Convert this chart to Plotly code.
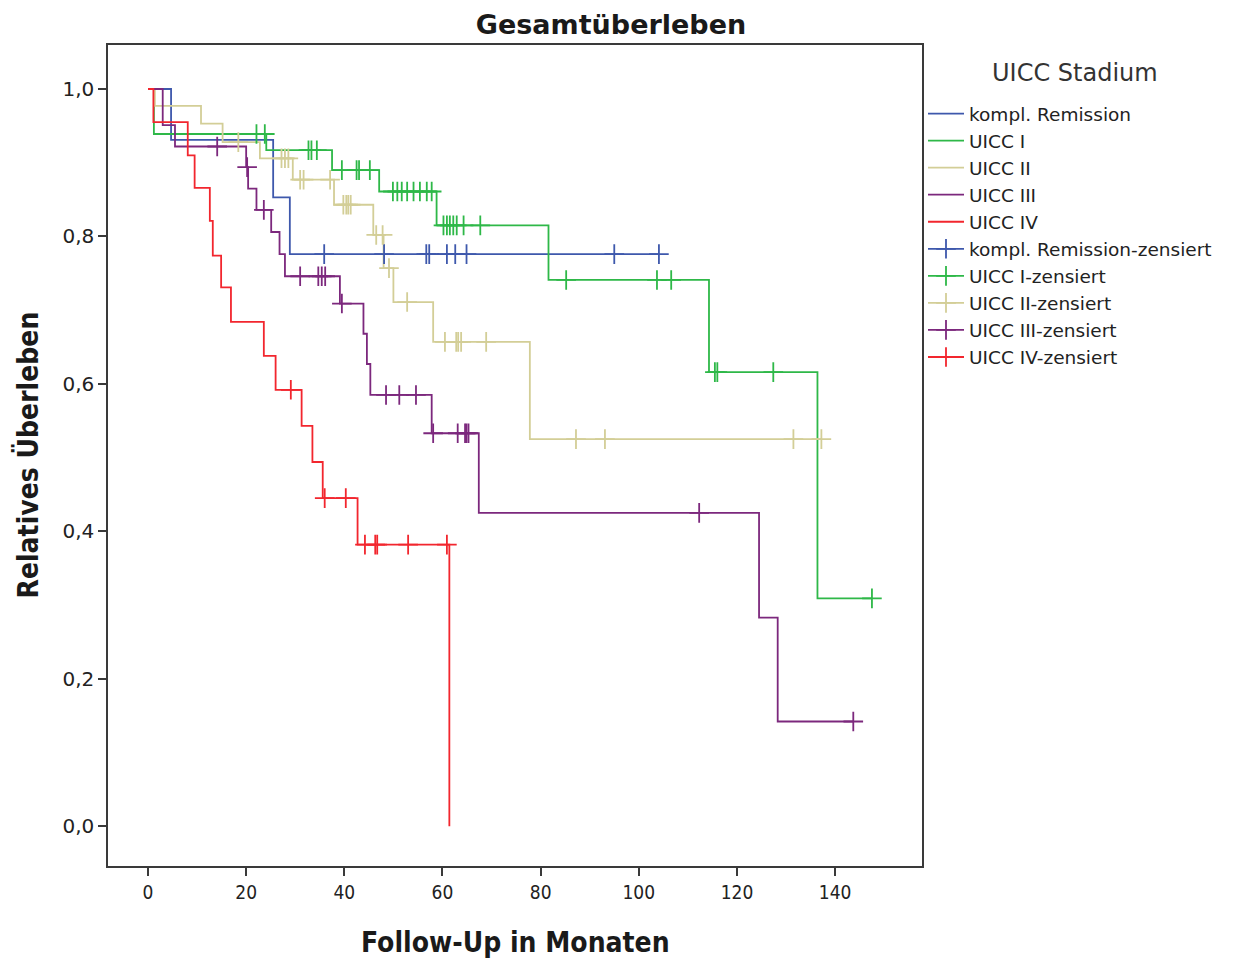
import plotly.graph_objects as go

# ---------------- data ----------------
groups = ["kompl. Remission", "UICC I", "UICC II", "UICC III", "UICC IV"]
colors = ["#3E58AC", "#2EB848", "#D3CE97", "#7C287D", "#F2262E"]

# event times (months) and survival level after each event
remission_t = [4.7, 25.5, 28.9]
remission_s = [0.931, 0.853, 0.776]
remission_cens = [35.9, 48.1, 56.7, 57.3, 60.9, 62.6, 64.9, 95.0, 104.1]

uicc1_t = [1.2, 24.1, 37.5, 47.1, 58.8, 81.6, 114.3, 136.4]
uicc1_s = [0.939, 0.917, 0.890, 0.861, 0.815, 0.741, 0.616, 0.309]
uicc1_cens = [22.1, 23.8, 32.7, 33.3, 34.4, 39.5, 42.5, 43.0, 45.2, 49.9, 50.8,
              51.7, 52.8, 54.1, 55.4, 56.8, 57.8, 60.2, 60.9, 61.5, 62.2, 62.9,
              64.3, 67.7, 85.2, 103.7, 106.6, 115.5, 116.0, 127.4, 147.5]

uicc2_t = [1.4, 10.8, 15.2, 22.8, 29.5, 37.9, 45.9, 48.0, 50.0, 58.1, 77.8]
uicc2_s = [0.977, 0.953, 0.928, 0.906, 0.877, 0.843, 0.802, 0.757, 0.711, 0.657, 0.525]
uicc2_cens = [18.4, 27.2, 27.9, 28.6, 31.0, 31.7, 37.1, 39.8, 40.4, 40.8, 41.3,
              46.5, 47.8, 49.1, 52.8, 60.5, 62.8, 63.2, 63.8, 68.9, 87.2, 93.1,
              131.5, 137.2]

uicc3_t = [3.0, 5.5, 20.0, 20.4, 22.1, 25.1, 26.8, 27.9, 39.1, 43.9, 44.6, 45.3,
           57.8, 67.4, 124.5, 128.3]
uicc3_s = [0.951, 0.922, 0.894, 0.865, 0.836, 0.806, 0.776, 0.746, 0.709, 0.668,
           0.627, 0.585, 0.533, 0.425, 0.283, 0.142]
uicc3_cens = [14.1, 20.2, 23.6, 31.0, 34.7, 35.4, 36.1, 39.5, 48.5, 51.2, 54.6,
              58.1, 63.1, 64.6, 64.9, 65.3, 112.3, 143.7]

uicc4_t = [1.1, 8.1, 9.5, 12.6, 13.2, 14.9, 16.9, 23.6, 26.0, 31.3, 33.5, 35.6,
           42.7, 61.4]
uicc4_s = [0.955, 0.910, 0.866, 0.821, 0.774, 0.731, 0.684, 0.638, 0.592, 0.543,
           0.494, 0.445, 0.382, 0.0]
uicc4_cens = [29.1, 36.0, 40.3, 44.2, 46.3, 46.7, 53.0, 60.9]

event_times = [remission_t, uicc1_t, uicc2_t, uicc3_t, uicc4_t]
surv_levels = [remission_s, uicc1_s, uicc2_s, uicc3_s, uicc4_s]
censor_times = [remission_cens, uicc1_cens, uicc2_cens, uicc3_cens, uicc4_cens]

y_ticks = [0.0, 0.2, 0.4, 0.6, 0.8, 1.0]
x_ticks = [0, 20, 40, 60, 80, 100, 120, 140]


def level_at(times, levels, t):
    s = 1.0
    for ti, si in zip(times, levels):
        if ti <= t:
            s = si
    return s


fig = go.Figure()
LW = 1.8

# survival step curves
for name, col, ts, ss, cs in zip(groups, colors, event_times, surv_levels, censor_times):
    end = max(ts + cs)
    xs = [0] + ts + [end]
    ys = [1.0] + ss + [ss[-1]]
    fig.add_trace(go.Scatter(
        x=xs, y=ys, mode="lines", name=name, line=dict(color=col, width=LW, shape="hv"),
        legendgroup=name, hoverinfo="skip"))

# censored marks
for name, col, ts, ss, cs in zip(groups, colors, event_times, surv_levels, censor_times):
    xs, ys = [], []
    for c in cs:
        xs += [c, None]
        ys += [level_at(ts, ss, c), None]
    fig.add_trace(go.Scatter(
        x=xs, y=ys, mode="lines+markers", name=name + "-zensiert",
        legendgroup=name + "-z", connectgaps=False,
        line=dict(color=col, width=LW),
        marker=dict(symbol="cross-thin", size=14, line=dict(color=col, width=LW))))

axis_col = "#3a3a3a"
fig.update_layout(
    width=1238, height=958,
    margin=dict(l=108, r=316, t=45, b=92),
    paper_bgcolor="white", plot_bgcolor="white",
    separators=",.",
    font=dict(family="DejaVu Sans, Arial, sans-serif", color="#222"),
    title=dict(text="<b>Gesamtüberleben</b>", x=611 / 1238, xanchor="center",
               y=1 - 25 / 958, yanchor="middle", xref="container", yref="container",
               font=dict(family="DejaVu Sans", size=27, color="#1a1a1a")),
    xaxis=dict(range=[-8.15, 157.7], tickvals=x_ticks, ticks="outside", ticklen=8,
               tickwidth=1.5, tickcolor=axis_col, showline=True, linecolor=axis_col,
               linewidth=1.5, mirror=True, showgrid=False, zeroline=False,
               tickfont=dict(family="DejaVu Sans Condensed, DejaVu Sans", size=19, color="#222")),
    yaxis=dict(range=[-0.054, 1.0597], tickvals=y_ticks, tickformat=".1f", ticks="outside",
               ticklen=8, tickwidth=1.5, tickcolor=axis_col, showline=True,
               linecolor=axis_col, linewidth=1.5, mirror=True, showgrid=False,
               zeroline=False,
               tickfont=dict(family="DejaVu Sans", size=20, color="#222")),
    legend=dict(x=(923 - 108) / 814, xanchor="left", y=1 - 50 / 821, yanchor="top",
                traceorder="grouped", tracegroupgap=0, itemwidth=36,
                bgcolor="rgba(0,0,0,0)",
                font=dict(family="DejaVu Sans", size=18.5, color="#222")),
    annotations=[
        dict(text="UICC Stadium", xref="paper", yref="paper",
             x=(1075 - 108) / 814, y=1 - (73 - 45) / 821, xanchor="center", yanchor="middle",
             showarrow=False,
             font=dict(family="DejaVu Sans", size=24, color="#333")),
        dict(text="<b>Follow-Up in Monaten</b>", xref="paper", yref="paper",
             x=0.5, y=-(942 - 866) / 821, xanchor="center", yanchor="middle",
             showarrow=False,
             font=dict(family="DejaVu Sans Condensed, DejaVu Sans", size=28, color="#1a1a1a")),
        dict(text="<b>Relatives Überleben</b>", xref="paper", yref="paper",
             x=(27 - 108) / 814, y=0.5, xanchor="center", yanchor="middle",
             textangle=-90, showarrow=False,
             font=dict(family="DejaVu Sans Condensed, DejaVu Sans", size=28, color="#1a1a1a")),
    ],
)

fig.write_html("out.html")
